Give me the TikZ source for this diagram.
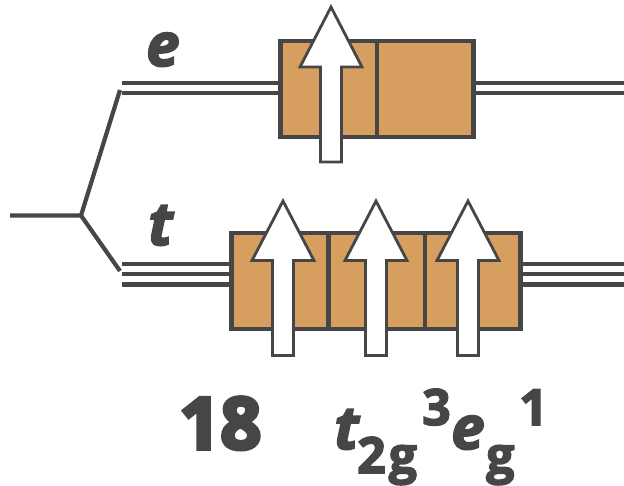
\documentclass[tikz,border=0pt]{standalone}
\usepackage{fontspec}
\setmainfont{Open Sans}[BoldFont={Open Sans Bold},BoldItalicFont={Open Sans Bold Italic}]
\newfontfamily\heavy{Open Sans Bold}[FakeBold=3]
\newfontfamily\heavyit{Open Sans Bold Italic}[FakeBold=3]
\newfontfamily\heavynum{Open Sans Bold}[FakeBold=5]
\definecolor{ink}{HTML}{464646}
\definecolor{box}{HTML}{D79F5F}
\tikzset{
  level/.style={draw=ink,line width=4.5pt},
  orbital/.style={draw=ink,fill=box,line width=4.6pt},
  spin/.style={draw=ink,fill=white,line width=2.8pt,miter limit=10},
  lab/.style={text=ink,inner sep=0pt,anchor=base west},
}
\newcommand{\spinarrow}[5]{% tip x, tip y, base y, half head, bottom
  \draw[spin] (#1,#2) -- (#1+#4,#3) -- (#1+10.5,#3) -- (#1+10.5,#5) -- (#1-10.5,#5) -- (#1-10.5,#3) -- (#1-#4,#3) -- cycle;}
\begin{document}
\begin{tikzpicture}[x=1pt,y=-1pt]
\useasboundingbox (0,0) rectangle (624,485);
% splitting
\coordinate (start) at (10,215.5);
\coordinate (fork) at (81,215.5);
\coordinate (up) at (120,90);
\coordinate (down) at (120,271);
\draw[level,line width=4.2pt] (start) -- (fork) -- (up);
\draw[level,line width=4.2pt] (fork) -- (down);
% levels
\foreach \y in {83,93} \draw[level] (122,\y) -- (285,\y) (470,\y) -- (624,\y);
\foreach \y in {264,274,284.5} \draw[level] (122,\y) -- (235,\y) (518,\y) -- (624,\y);
% boxes
\draw[orbital] (280.5,41) rectangle (473.5,137);
\draw[ink,line width=4.6pt] (377,41) -- (377,137);
\draw[orbital] (231.7,233) rectangle (520.5,329);
\draw[ink,line width=4.6pt] (328.3,233) -- (328.3,329) (425,233) -- (425,329);
% arrows
\spinarrow{331}{7}{67}{31}{162}
\spinarrow{283}{201}{260.5}{31}{355.5}
\spinarrow{376}{201}{260.5}{31}{355.5}
\spinarrow{468}{201}{260.5}{31}{355.5}
% text
\node[lab,font=\heavyit\fontsize{60}{60}\selectfont] (le) at (146,66) {e};
\node[lab,font=\heavyit\fontsize{60}{60}\selectfont] (lt) at (148,245) {t};
\node[lab,font=\heavynum\fontsize{72}{72}\selectfont] (n) at (179,449) {18};
\node[lab,font=\heavyit\fontsize{60}{60}\selectfont] (t1) at (334,449) {t};
\node[lab,font=\heavy\fontsize{50}{50}\selectfont] (t2) at (357,473) {2\kern3pt g};
\node[lab,font=\heavy\fontsize{50}{50}\selectfont] (t3) at (422,425) {3};
\node[lab,font=\heavyit\fontsize{60}{60}\selectfont] (e1) at (451,449) {e};
\node[lab,font=\heavy\fontsize{50}{50}\selectfont] (e2) at (486,473) {g};
\node[lab,font=\heavy\fontsize{50}{50}\selectfont] (e3) at (519,425) {1};
\end{tikzpicture}
\end{document}
